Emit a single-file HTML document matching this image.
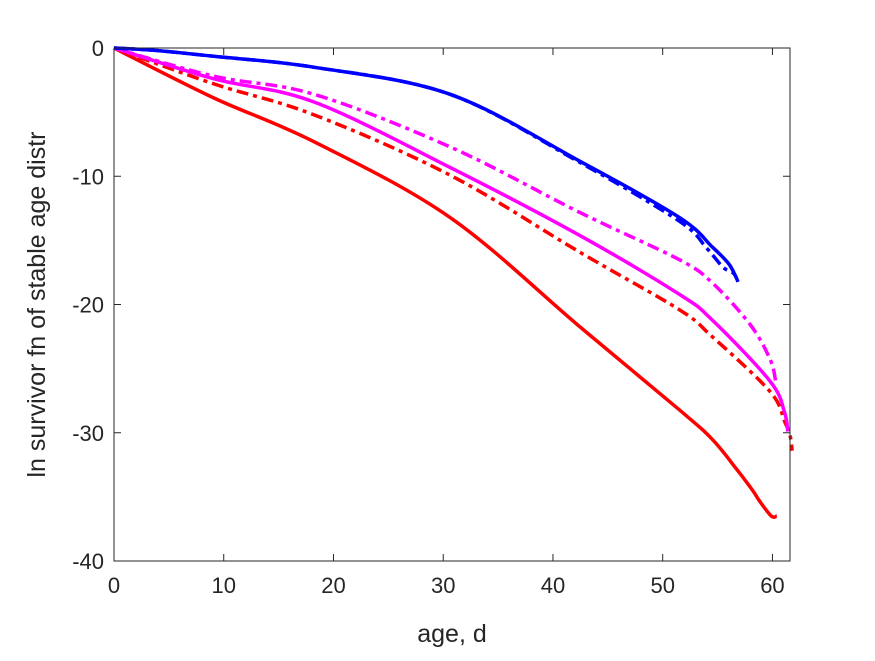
<!DOCTYPE html>
<html><head><meta charset="utf-8"><style>
body{margin:0;background:#fff;}
svg text{font-family:"Liberation Sans",sans-serif;fill:#262626;}
</style></head><body>
<svg id="chart" width="875" height="656" xmlns="http://www.w3.org/2000/svg">
<rect width="875" height="656" fill="#fff"/>
<g id="series"></g>
<g id="axes"></g>
</svg>
<script>
const xTicks=[0,10,20,30,40,50,60];
const yTicks=[0,-10,-20,-30,-40];
const blueSolidX=[0,4,9.1,18.2,30.6,42.4,51.5,54.5,56,56.7];
const blueSolidY=[0,-0.2,-0.65,-1.5,-3.6,-8.8,-13.2,-15.5,-16.8,-17.9];
const blueDashX=[0,4,9.1,18.2,30.6,42.4,51.5,54,55.5,56.5,57];
const blueDashY=[0,-0.2,-0.65,-1.5,-3.6,-8.9,-13.5,-15.6,-17.1,-17.6,-18.6];
const magDashX=[0,9.1,18.2,30.6,42.4,51.5,54.5,58,59.8,60.3];
const magDashY=[0,-2.2,-3.6,-7.7,-12.8,-16.5,-18.3,-21.6,-24.3,-26.0];
const magSolidX=[0,9.1,18.2,30.6,42.4,51.5,54.5,59.8,61.1,61.4];
const magSolidY=[0,-2.4,-4.2,-9.3,-14.6,-19.2,-21.2,-26.0,-28.4,-29.9];
const redDashX=[0,9.1,18.2,30.6,42.4,51.5,54.5,59.8,61.1,61.6,61.8];
const redDashY=[0,-2.8,-5.2,-9.9,-15.9,-20.4,-22.5,-26.8,-29.1,-30.2,-31.4];
const redSolidX=[0,9.1,18.2,30.6,42.4,51.5,54.5,56.7,58.2,58.8,59.9,60.4];
const redSolidY=[0,-3.9,-7.3,-13.2,-21.7,-28.2,-30.5,-32.8,-34.5,-35.3,-36.5,-36.5];
const L=114,T=48,R=790,B=561,XMAX=61.6;
const sx=v=>L+v*(R-L)/XMAX;
const sy=v=>T+(-v)*(B-T)/40;
const NS="http://www.w3.org/2000/svg";
const sg=document.getElementById('series'),ag=document.getElementById('axes');
function mk(tag,attrs,parent){const e=document.createElementNS(NS,tag);for(const k in attrs)e.setAttribute(k,attrs[k]);parent.appendChild(e);return e;}
function line(xs,ys,color,dash,name){
  const P=xs.map((x,i)=>[sx(x),sy(ys[i])]);
  let d='M'+P[0][0].toFixed(1)+' '+P[0][1].toFixed(1);
  for(let i=0;i<P.length-1;i++){
    const p0=P[i-1]||P[i],p1=P[i],p2=P[i+1],p3=P[i+2]||P[i+1];
    const c1=[p1[0]+(p2[0]-p0[0])/6,p1[1]+(p2[1]-p0[1])/6];
    const c2=[p2[0]-(p3[0]-p1[0])/6,p2[1]-(p3[1]-p1[1])/6];
    d+=' C'+c1[0].toFixed(1)+' '+c1[1].toFixed(1)+' '+c2[0].toFixed(1)+' '+c2[1].toFixed(1)+' '+p2[0].toFixed(1)+' '+p2[1].toFixed(1);
  }
  const p=mk('path',{d:d,fill:'none',stroke:color,'stroke-width':3.5,'stroke-linejoin':'round'},sg);
  if(dash)p.setAttribute('stroke-dasharray','12 5 4 5');
  
  
}
line(redSolidX,redSolidY,'#ff0000',false,'red-solid-line');
line(redDashX,redDashY,'#ff0000',true,'red-dashdot-line');
line(magSolidX,magSolidY,'#ff00ff',false,'magenta-solid-line');
line(magDashX,magDashY,'#ff00ff',true,'magenta-dashdot-line');
line(blueDashX,blueDashY,'#0000ff',true,'blue-dashdot-line');
line(blueSolidX,blueSolidY,'#0000ff',false,'blue-solid-line');
const box=mk('rect',{x:L,y:T,width:R-L,height:B-T,fill:'none',stroke:'#262626','stroke-width':1},ag);


xTicks.forEach(v=>{
  const x=sx(v);
  mk('line',{x1:x,x2:x,y1:B,y2:B-7,stroke:'#262626'},ag);
  mk('line',{x1:x,x2:x,y1:T,y2:T+7,stroke:'#262626'},ag);
  const t=mk('text',{x:x,y:B+32,'text-anchor':'middle','font-size':22},ag);
  t.textContent=v;
  
  
});
yTicks.forEach(v=>{
  const y=sy(v);
  mk('line',{x1:L,x2:L+7,y1:y,y2:y,stroke:'#262626'},ag);
  mk('line',{x1:R,x2:R-7,y1:y,y2:y,stroke:'#262626'},ag);
  const t=mk('text',{x:L-10,y:y+8,'text-anchor':'end','font-size':22},ag);
  t.textContent=v;
  
  
});
const xt=mk('text',{x:(L+R)/2,y:642,'text-anchor':'middle','font-size':25},ag);
xt.textContent='age, d';


const yt=mk('text',{x:0,y:0,'text-anchor':'middle','font-size':25,transform:'translate(45,'+((T+B)/2)+') rotate(-90)'},ag);
yt.textContent='ln survivor fn of stable age distr';


</script>
</body></html>
